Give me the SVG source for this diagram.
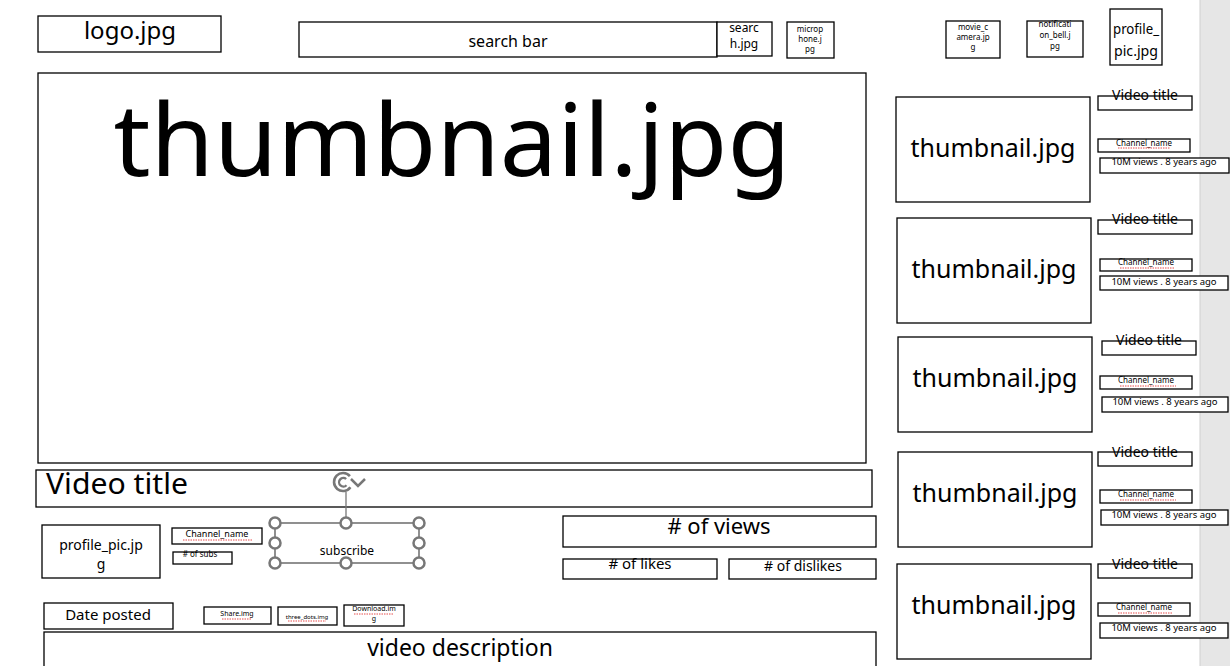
<svg xmlns="http://www.w3.org/2000/svg" width="1230" height="666" viewBox="0 0 1230 666">
<style>
.b{fill:#fff;stroke:#000;stroke-width:1.3}
.t{font-family:"Noto Sans","Open Sans",sans-serif;fill:#000;text-anchor:middle}
.s{fill:none;stroke:#e02020;stroke-width:0.8;stroke-dasharray:1.5 1}
.h{fill:#fff;stroke:#777;stroke-width:2.5}
</style>
<rect x="0" y="0" width="1230" height="666" fill="#fff"/>
<rect x="1200" y="0" width="30" height="666" fill="#e6e6e6"/>
<line x1="1200" y1="0" x2="1200" y2="666" stroke="#cfcfcf"/>

<g id="logo"><rect class="b" x="38" y="16" width="183" height="36"/><text class="t" x="130" y="39" font-size="24">logo.jpg</text></g>
<g id="searchbar"><rect class="b" x="299" y="22" width="418" height="35"/><text class="t" x="508" y="47" font-size="16">search bar</text></g>
<g id="searchicon"><rect class="b" x="717" y="22" width="55" height="34"/><text class="t" x="744" y="32" font-size="12">searc</text><text class="t" x="744" y="48" font-size="12">h.jpg</text></g>
<g id="microphone"><rect class="b" x="787" y="22" width="47" height="36"/><text class="t" x="810" y="32" font-size="8">microp</text><text class="t" x="810" y="42" font-size="8">hone.j</text><text class="t" x="810" y="52" font-size="8">pg</text></g>
<g id="moviecamera"><rect class="b" x="946" y="21" width="54" height="37"/><text class="t" x="973" y="30" font-size="8">movie_c</text><text class="t" x="973" y="40" font-size="8">amera.jp</text><text class="t" x="973" y="50" font-size="8">g</text></g>
<g id="notificationbell"><rect class="b" x="1027" y="21" width="56" height="36"/><text class="t" x="1055" y="27" font-size="8">notificati</text><text class="t" x="1055" y="38" font-size="8">on_bell.j</text><text class="t" x="1055" y="49" font-size="8">pg</text></g>
<g id="profilepic-top"><rect class="b" x="1110" y="9" width="52" height="56"/><text class="t" x="1136" y="34" font-size="15" textLength="46" lengthAdjust="spacingAndGlyphs">profile_</text><text class="t" x="1136" y="56" font-size="15" textLength="44" lengthAdjust="spacingAndGlyphs">pic.jpg</text></g>

<g id="main-thumbnail"><rect class="b" x="38" y="73" width="828" height="390"/><text class="t" x="452" y="176" font-size="100" textLength="677" lengthAdjust="spacingAndGlyphs">thumbnail.jpg</text></g>
<g id="video-title"><rect class="b" x="36" y="470" width="836" height="37"/><text x="46" y="494" font-size="29" font-family="Noto Sans, sans-serif" textLength="142" lengthAdjust="spacingAndGlyphs">Video title</text></g>

<g id="profilepic-channel"><rect class="b" x="42" y="525" width="118" height="53"/><text class="t" x="101" y="550" font-size="14">profile_pic.jp</text><text class="t" x="101" y="569" font-size="14">g</text></g>
<g id="channel-name"><rect class="b" x="172" y="528" width="90" height="16"/><text class="t" x="217" y="537" font-size="9">Channel_name</text><path class="s" d="M183 540 H252"/></g>
<g id="subs"><rect class="b" x="173" y="552" width="59" height="12"/><text class="t" x="200" y="557" font-size="8"># of subs</text></g>

<g id="subscribe">
<line x1="346" y1="492" x2="346" y2="523" stroke="#777" stroke-width="1.3"/>
<path d="M349.9 476.2 A9 9 0 1 0 350.4 487.2" fill="none" stroke="#777" stroke-width="2.6"/>
<path d="M346.2 479 A4.3 4.3 0 1 0 346.5 485.2" fill="none" stroke="#777" stroke-width="2.3"/>
<path d="M351 479 L358 486 L365 479" fill="none" stroke="#777" stroke-width="2.5"/>
<rect x="275" y="523" width="144" height="40" fill="#fff" stroke="#555" stroke-width="1.3"/>
<text class="t" x="347" y="555" font-size="12">subscribe</text>
<circle class="h" cx="275" cy="523" r="5.5"/><circle class="h" cx="346" cy="523" r="5.5"/><circle class="h" cx="419" cy="523" r="5.5"/>
<circle class="h" cx="275" cy="543" r="5.5"/><circle class="h" cx="419" cy="543" r="5.5"/>
<circle class="h" cx="275" cy="563" r="5.5"/><circle class="h" cx="346" cy="563" r="5.5"/><circle class="h" cx="419" cy="563" r="5.5"/>
</g>

<g id="views"><rect class="b" x="563" y="516" width="313" height="31"/><text class="t" x="719" y="534" font-size="22">#  of views</text></g>
<g id="likes"><rect class="b" x="563" y="559" width="154" height="20"/><text class="t" x="640" y="569" font-size="15">#  of likes</text></g>
<g id="dislikes"><rect class="b" x="729" y="559" width="147" height="20"/><text class="t" x="803" y="571" font-size="14">#  of dislikes</text></g>

<g id="date-posted"><rect class="b" x="44" y="603" width="129" height="26"/><text class="t" x="108" y="620" font-size="15">Date posted</text></g>
<g id="share"><rect class="b" x="204" y="607" width="67" height="17"/><text class="t" x="237" y="616" font-size="7">Share.img</text><path class="s" d="M222 619 H252"/></g>
<g id="threedots"><rect class="b" x="278" y="607" width="59" height="18"/><text class="t" x="307" y="619" font-size="6">three_dots.img</text><path class="s" d="M288 621 H326"/></g>
<g id="download"><rect class="b" x="344" y="605" width="60" height="21"/><text class="t" x="374" y="611" font-size="7">Download.im</text><text class="t" x="374" y="621" font-size="7">g</text><path class="s" d="M354 614 H394"/></g>
<g id="description"><rect class="b" x="44" y="632" width="832" height="40"/><text class="t" x="460" y="656" font-size="23">video description</text></g>

<g id="side1"><rect class="b" x="896" y="97" width="194" height="105"/><text class="t" x="993" y="157" font-size="25">thumbnail.jpg</text>
<rect class="b" x="1098" y="96" width="94" height="14"/><text class="t" x="1145" y="100" font-size="14">Video title</text>
<rect class="b" x="1098" y="139" width="92" height="13"/><text class="t" x="1144" y="146" font-size="8">Channel_name</text><path class="s" d="M1118 148 H1170"/>
<rect class="b" x="1100" y="158" width="129" height="15"/><text class="t" x="1164" y="165" font-size="9.5">10M views . 8 years ago</text></g>

<g id="side2"><rect class="b" x="897" y="218" width="194" height="105"/><text class="t" x="994" y="278" font-size="25">thumbnail.jpg</text>
<rect class="b" x="1098" y="220" width="94" height="14"/><text class="t" x="1145" y="224" font-size="14">Video title</text>
<rect class="b" x="1100" y="259" width="92" height="12"/><text class="t" x="1146" y="265" font-size="8">Channel_name</text><path class="s" d="M1120 268 H1174"/>
<rect class="b" x="1100" y="276" width="128" height="14"/><text class="t" x="1164" y="285" font-size="9.5">10M views . 8 years ago</text></g>

<g id="side3"><rect class="b" x="898" y="337" width="194" height="95"/><text class="t" x="995" y="387" font-size="25">thumbnail.jpg</text>
<rect class="b" x="1102" y="341" width="94" height="14"/><text class="t" x="1149" y="345" font-size="14">Video title</text>
<rect class="b" x="1100" y="376" width="92" height="13"/><text class="t" x="1146" y="383" font-size="8">Channel_name</text><path class="s" d="M1120 386 H1176"/>
<rect class="b" x="1102" y="397" width="126" height="15"/><text class="t" x="1165" y="405" font-size="9.5">10M views . 8 years ago</text></g>

<g id="side4"><rect class="b" x="898" y="452" width="194" height="95"/><text class="t" x="995" y="502" font-size="25">thumbnail.jpg</text>
<rect class="b" x="1098" y="452" width="94" height="14"/><text class="t" x="1145" y="457" font-size="14">Video title</text>
<rect class="b" x="1100" y="490" width="92" height="13"/><text class="t" x="1146" y="497" font-size="8">Channel_name</text><path class="s" d="M1120 500 H1176"/>
<rect class="b" x="1101" y="510" width="127" height="15"/><text class="t" x="1164" y="518" font-size="9.5">10M views . 8 years ago</text></g>

<g id="side5"><rect class="b" x="897" y="564" width="194" height="95"/><text class="t" x="994" y="614" font-size="25">thumbnail.jpg</text>
<rect class="b" x="1098" y="564" width="94" height="14"/><text class="t" x="1145" y="569" font-size="14">Video title</text>
<rect class="b" x="1098" y="603" width="92" height="13"/><text class="t" x="1144" y="610" font-size="8">Channel_name</text><path class="s" d="M1118 613 H1172"/>
<rect class="b" x="1100" y="623" width="128" height="15"/><text class="t" x="1164" y="631" font-size="9.5">10M views . 8 years ago</text></g>
</svg>
